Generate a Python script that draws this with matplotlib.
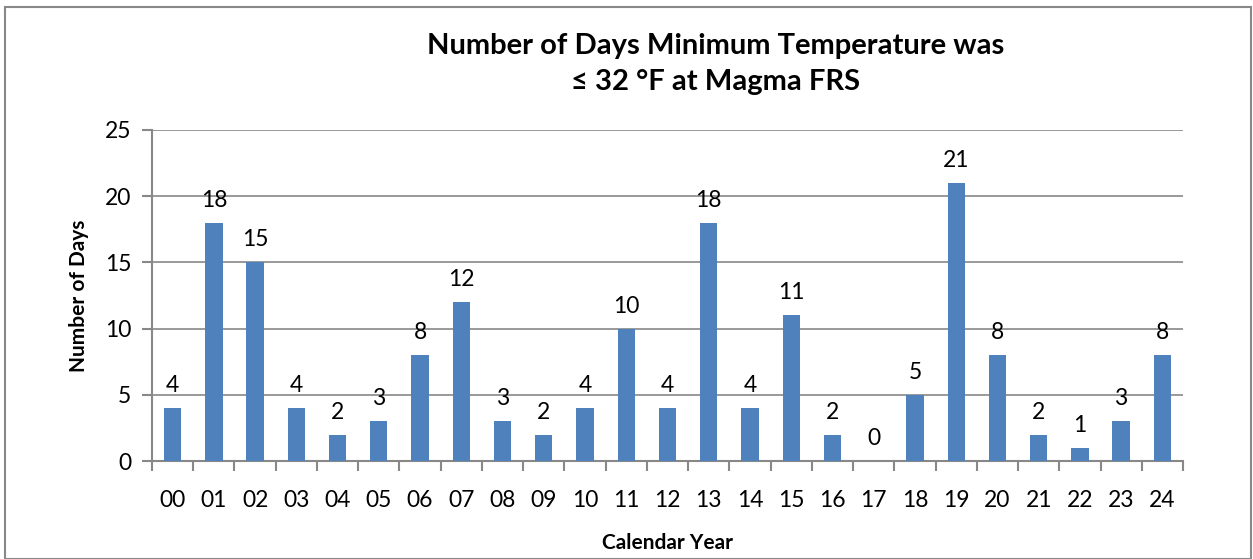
import matplotlib
matplotlib.use('Agg')
import matplotlib.pyplot as plt
from matplotlib.patches import Rectangle

years = ['00', '01', '02', '03', '04', '05', '06', '07', '08', '09', '10', '11', '12',
         '13', '14', '15', '16', '17', '18', '19', '20', '21', '22', '23', '24']
days = [4, 18, 15, 4, 2, 3, 8, 12, 3, 2, 4, 10, 4, 18, 4, 11, 2, 0, 5, 21, 8, 2, 1, 3, 8]

plt.rcParams['font.family'] = ['Lato', 'DejaVu Sans']

fig = plt.figure(figsize=(12.53, 5.59), dpi=100)
ax = fig.add_axes([152 / 1253, 98 / 559, 1031 / 1253, 331 / 559])

x = list(range(len(years)))
ax.bar(x, days, width=0.42, color='#4F81BD', zorder=3)
for xi, d in zip(x, days):
    ax.text(xi, d + 0.9, str(d), ha='center', va='bottom', fontsize=16.5)

ax.set_xlim(-0.5, len(years) - 0.5)
ax.set_ylim(0, 25)
ax.set_yticks([0, 5, 10, 15, 20, 25])
ax.set_xticks(x)
ax.set_xticklabels(years)
ax.set_xticks([i - 0.5 for i in range(len(years) + 1)], minor=True)
ax.tick_params(axis='x', which='major', length=0, pad=21, labelsize=16.5)
ax.tick_params(axis='x', which='minor', length=7, width=1.5, color='#888888')
ax.tick_params(axis='y', length=7, width=1.5, color='#888888', labelsize=16.5, pad=8)
ax.grid(axis='y', color='#888888', linewidth=1.2, zorder=0)
for side in ['top', 'right']:
    ax.spines[side].set_visible(False)
for side in ['left', 'bottom']:
    ax.spines[side].set_color('#888888')
    ax.spines[side].set_linewidth(1.5)

ax.set_xlabel('Calendar Year', fontsize=15, fontweight='bold', labelpad=16)
ax.set_ylabel('Number of Days', fontsize=15, fontweight='bold', labelpad=11)

fig.text(716 / 1253, 1 - 64 / 559, 'Number of Days Minimum Temperature was\n\u2264 32 \u00b0F at Magma FRS',
         ha='center', va='center', fontsize=21, fontweight='bold', linespacing=1.45)

fig.patches.append(Rectangle((5 / 1253, 0), 1246 / 1253, 552 / 559, transform=fig.transFigure,
                             fill=False, edgecolor='#888888', linewidth=1.5))

plt.savefig('out.png', dpi=100)
